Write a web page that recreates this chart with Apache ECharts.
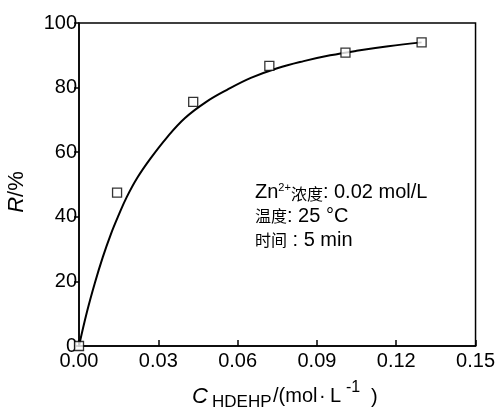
<!DOCTYPE html>
<html>
<head>
<meta charset="utf-8">
<title>R - C</title>
<style>
    body{ margin:0; background-color:#FFFFFF; }
    #main{ width:498px; height:409px; }
</style>
</head>
<body>
<div id="main"></div>
<script src="https://cdn.jsdelivr.net/npm/echarts@6/dist/echarts.min.js"></script>
<script>
// 实验点
var pointX = [0, 0.0144, 0.0432, 0.072, 0.1008, 0.1296];
var pointR = [0, 47.5, 75.6, 86.7, 90.8, 94.0];

// 拟合曲线
var curveX = [0, 0.003, 0.006, 0.009, 0.012, 0.015, 0.018, 0.022, 0.027, 0.033, 0.040, 0.048, 0.056, 0.065, 0.075, 0.085, 0.095, 0.105, 0.117, 0.1296];
var curveR = [0, 10.5, 19.5, 27.5, 34.5, 40.5, 46, 52, 58, 64.3, 70.5, 75.5, 79.3, 83, 86, 88.2, 90, 91.4, 92.8, 94.0];

var xTicks = ['0.00', '0.03', '0.06', '0.09', '0.12', '0.15'];
var yTicks = [0, 20, 40, 60, 80, 100];

var FONT = '"Liberation Sans", Arial, sans-serif';
var CJK = '"Noto Sans CJK SC", sans-serif';

var myChart = echarts.init(document.getElementById('main'));

var option = {
    animation: false,
    grid: {
        left: 79, right: 21, top: 23, bottom: 63,
        show: true, borderColor: '#000', borderWidth: 1.5
    },
    xAxis: {
        type: 'value', min: 0, max: 0.15, interval: 0.03,
        axisLine: { lineStyle: { color: '#000', width: 1.5 } },
        axisTick: { inside: true, length: 6, lineStyle: { color: '#000', width: 1.5 } },
        axisLabel: {
            color: '#000', fontFamily: FONT, fontSize: 20, margin: 5,
            formatter: function (v) { return xTicks[Math.round(v / 0.03)]; }
        },
        splitLine: { show: false }
    },
    yAxis: {
        type: 'value', min: 0, max: 100, interval: 20,
        axisLine: { show: true, lineStyle: { color: '#000', width: 1.5 } },
        axisTick: { show: true, inside: false, length: 5, lineStyle: { color: '#000', width: 1.5 } },
        axisLabel: {
            color: '#000', fontFamily: FONT, fontSize: 20, margin: 2,
            formatter: function (v) { return yTicks.indexOf(v) >= 0 ? String(v) : ''; }
        },
        splitLine: { show: false }
    },
    series: [
        {
            type: 'line', smooth: 0.4, symbol: 'none',
            data: curveX.map(function (x, i) { return [x, curveR[i]]; }),
            lineStyle: { color: '#000', width: 2 }
        },
        {
            type: 'scatter', symbol: 'rect', symbolSize: 9,
            data: pointX.map(function (x, i) { return [x, pointR[i]]; }),
            itemStyle: { color: '#fff', borderColor: '#000', borderWidth: 1.3 },
            z: 5
        }
    ],
    graphic: [
        // y 轴标题
        {
            type: 'text', x: 17, y: 192, rotation: Math.PI / 2,
            style: {
                text: '{i|R}{n|/%}', align: 'center', verticalAlign: 'middle',
                rich: {
                    i: { fontFamily: FONT, fontStyle: 'italic', fontSize: 22, fill: '#000' },
                    n: { fontFamily: FONT, fontSize: 22, fill: '#000' }
                }
            }
        },
        // x 轴标题
        { type: 'text', x: 192, y: 386, style: { text: 'C', fontFamily: FONT, fontStyle: 'italic', fontSize: 22, fill: '#000' } },
        { type: 'text', x: 212, y: 394, style: { text: 'HDEHP', fontFamily: FONT, fontSize: 17, fill: '#000' } },
        { type: 'text', x: 273, y: 386, style: { text: '/(mol', fontFamily: FONT, fontSize: 20, fill: '#000' } },
        { type: 'text', x: 319, y: 386, style: { text: '\u00B7', fontFamily: FONT, fontSize: 20, fill: '#000' } },
        { type: 'text', x: 330, y: 386, style: { text: 'L', fontFamily: FONT, fontSize: 20, fill: '#000' } },
        { type: 'text', x: 346, y: 380, style: { text: '-1', fontFamily: FONT, fontSize: 16, fill: '#000' } },
        { type: 'text', x: 371, y: 387, style: { text: ')', fontFamily: FONT, fontSize: 20, fill: '#000' } },
        // 条件说明
        {
            type: 'text', x: 255, y: 182,
            style: {
                text: '{a|Zn}{s|2+}{c|浓度}{a|: 0.02 mol/L}',
                rich: {
                    a: { fontFamily: FONT, fontSize: 20, fill: '#000', verticalAlign: 'bottom' },
                    s: { fontFamily: FONT, fontSize: 11, fill: '#000', verticalAlign: 'top' },
                    c: { fontFamily: CJK, fontSize: 16, fill: '#000', verticalAlign: 'bottom' }
                }
            }
        },
        {
            type: 'text', x: 255, y: 206,
            style: {
                text: '{c|温度}{a|: 25 \u00B0C}',
                rich: {
                    a: { fontFamily: FONT, fontSize: 20, fill: '#000' },
                    c: { fontFamily: CJK, fontSize: 16, fill: '#000' }
                }
            }
        },
        {
            type: 'text', x: 255, y: 230,
            style: {
                text: '{c|时间}{a| : 5 min}',
                rich: {
                    a: { fontFamily: FONT, fontSize: 20, fill: '#000' },
                    c: { fontFamily: CJK, fontSize: 16, fill: '#000' }
                }
            }
        }
    ]
};

myChart.setOption(option);
</script>
</body>
</html>
